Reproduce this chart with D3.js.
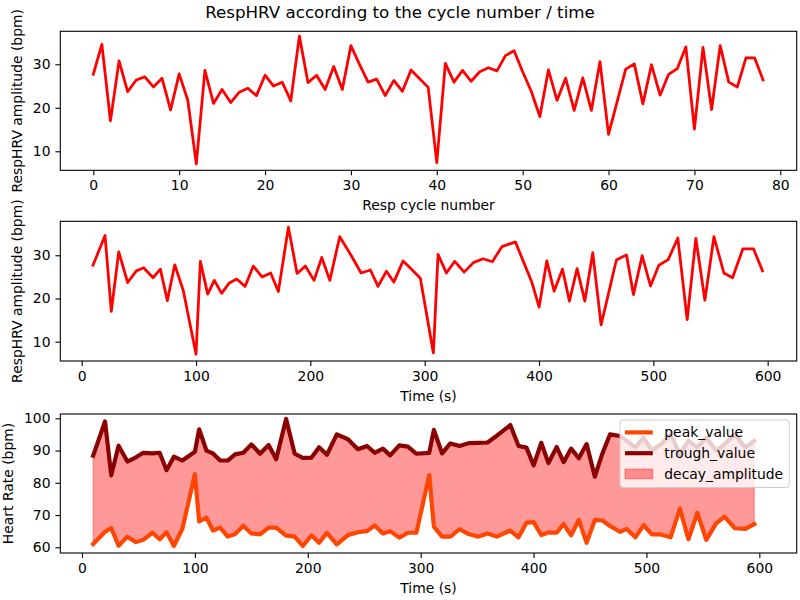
<!DOCTYPE html>
<html>
<head>
<meta charset="utf-8">
<script src="https://cdn.jsdelivr.net/npm/d3@7"></script>
<style>
  body { margin: 0; background: white; }
  text { font-family: "DejaVu Sans", sans-serif; }
</style>
</head>
<body>
<svg id="chart" width="800" height="600"></svg>
<script>
// RespHRV amplitude per respiratory cycle, and heart-rate peak/trough per cycle.

const timeSec = [9.9, 20.4, 25.9, 32.4, 40.2, 47.8, 54.2, 62.4, 68.8, 74.9,
  81.4, 88.9, 100.0, 103.8, 110.2, 116.0, 122.4, 129.1, 135.6, 142.9,
  150.1, 157.7, 165.3, 172.0, 180.8, 188.4, 195.6, 203.2, 210.0, 217.0,
  225.7, 235.6, 244.4, 252.5, 259.2, 266.5, 273.0, 281.1, 288.7, 296.2,
  307.6, 311.7, 319.0, 326.3, 334.5, 342.6, 351.1, 359.2, 367.5, 379.4,
  386.7, 393.7, 400.1, 406.8, 413.2, 420.5, 426.6, 433.3, 440.1, 447.0,
  454.3, 461.0, 467.7, 476.5, 482.6, 490.2, 497.5, 504.8, 513.0, 521.4,
  529.6, 537.2, 545.1, 553.0, 561.7, 569.3, 578.3, 587.6, 595.5];

const respHrvAmplitude = [27.7, 34.6, 17.0, 30.8, 23.7, 26.4, 27.1, 24.8, 26.8, 19.5,
  27.8, 21.8, 7.1, 28.6, 21.0, 24.2, 21.2, 23.6, 24.5, 22.8,
  27.5, 25.0, 25.9, 21.6, 36.5, 25.8, 27.5, 24.2, 29.5, 24.2,
  34.3, 30.0, 25.9, 26.6, 22.8, 26.3, 23.8, 28.7, 26.7, 24.7,
  7.4, 30.2, 25.9, 28.6, 26.1, 28.3, 29.2, 28.5, 32.0, 33.1,
  28.3, 23.8, 18.0, 28.7, 21.7, 26.8, 19.4, 26.9, 19.4, 30.6,
  13.9, 21.4, 28.9, 30.1, 20.9, 29.9, 22.9, 27.7, 29.0, 34.0,
  15.1, 33.9, 19.6, 34.3, 25.9, 24.8, 31.5, 31.5, 26.4];

const peakValue = [61.0, 64.8, 66.0, 60.5, 63.3, 61.6, 62.3, 64.5, 62.5, 64.7,
  60.4, 65.7, 82.7, 68.0, 69.2, 65.2, 66.1, 63.3, 64.1, 66.7,
  64.3, 64.0, 66.1, 66.1, 63.6, 63.3, 60.4, 63.7, 61.4, 64.5,
  60.9, 63.8, 64.7, 65.0, 66.8, 64.3, 65.0, 63.0, 64.5, 64.5,
  82.4, 66.4, 63.3, 63.3, 65.6, 64.1, 63.3, 64.3, 63.3, 65.2,
  63.1, 67.6, 67.8, 63.8, 64.6, 64.5, 67.2, 63.7, 68.5, 61.4,
  68.5, 68.3, 66.6, 64.8, 65.7, 63.1, 66.9, 64.0, 64.0, 63.1,
  72.0, 62.5, 70.7, 62.3, 67.4, 69.5, 65.9, 65.7, 67.2];

const troughValue = [88.4, 99.0, 82.3, 91.5, 86.6, 87.9, 89.3, 89.1, 89.3, 83.9,
  88.1, 86.9, 89.6, 96.6, 90.0, 89.1, 86.9, 86.9, 88.8, 89.3,
  91.9, 89.0, 91.7, 87.3, 99.8, 89.0, 87.7, 87.8, 91.0, 88.7,
  95.0, 93.5, 90.4, 91.4, 89.3, 90.6, 88.5, 91.6, 91.2, 89.0,
  89.3, 96.4, 89.1, 92.2, 91.4, 92.3, 92.4, 92.5, 94.6, 97.9,
  91.4, 90.9, 85.4, 92.4, 86.1, 91.1, 86.4, 90.6, 87.6, 92.0,
  81.9, 89.1, 95.0, 94.5, 93.0, 91.0, 94.0, 90.0, 92.0, 95.0,
  89.0, 93.0, 91.0, 94.0, 90.0, 92.0, 95.0, 91.0, 93.0];

const cycleTicks = [0, 10, 20, 30, 40, 50, 60, 70, 80];
const timeTicks = [0, 100, 200, 300, 400, 500, 600];
const amplitudeTicks = [10, 20, 30];
const heartRateTicks = [60, 70, 80, 90, 100];
const legendLabels = ["peak_value", "trough_value", "decay_amplitude"];

const svg = d3.select("#chart");
const fontSize = 13.9;

svg.append("text")
  .attr("x", 400)
  .attr("y", 18)
  .attr("text-anchor", "middle")
  .attr("font-size", 16.7)
  .text("RespHRV according to the cycle number / time");

// one matplotlib-like axes box: ticks and labels (frame drawn after the data)
function makeAxes(box, xDomain, yDomain, xTicks, yTicks, xLabel, yLabel, yLabelX) {
  const x = d3.scaleLinear().domain(xDomain).range([box.left, box.right]);
  const y = d3.scaleLinear().domain(yDomain).range([box.bottom, box.top]);

  const styleAxis = axis => {
    axis.select(".domain").remove();
    axis.selectAll("text").attr("font-size", fontSize).attr("fill", "black")
      .attr("font-family", "DejaVu Sans, sans-serif");
    axis.selectAll(".tick line").attr("stroke", "black").attr("stroke-width", 1.1);
  };

  svg.append("g")
    .attr("transform", `translate(0,${box.bottom})`)
    .call(d3.axisBottom(x).tickValues(xTicks).tickFormat(d3.format("d")).tickSize(4.9).tickPadding(4.9))
    .call(styleAxis);

  svg.append("g")
    .attr("transform", `translate(${box.left},0)`)
    .call(d3.axisLeft(y).tickValues(yTicks).tickFormat(d3.format("d")).tickSize(4.9).tickPadding(4.9))
    .call(styleAxis);

  svg.append("text")
    .attr("x", (box.left + box.right) / 2)
    .attr("y", box.bottom + 39.5)
    .attr("text-anchor", "middle")
    .attr("font-size", fontSize)
    .text(xLabel);

  svg.append("text")
    .attr("transform", `translate(${yLabelX},${(box.top + box.bottom) / 2}) rotate(-90)`)
    .attr("text-anchor", "middle")
    .attr("font-size", fontSize)
    .text(yLabel);

  return { x, y };
}

function drawFrame(box) {
  svg.append("rect")
    .attr("x", box.left)
    .attr("y", box.top)
    .attr("width", box.right - box.left)
    .attr("height", box.bottom - box.top)
    .attr("fill", "none")
    .attr("stroke", "black")
    .attr("stroke-width", 1.1);
}

function addLine(data, line, color, width) {
  svg.append("path")
    .datum(data)
    .attr("fill", "none")
    .attr("stroke", color)
    .attr("stroke-width", width)
    .attr("stroke-linejoin", "round")
    .attr("stroke-linecap", "square")
    .attr("d", line);
}

// --- panel 1: amplitude vs cycle number
const box1 = { left: 60.3, right: 796.7, top: 31.3, bottom: 170.3 };
const p1 = makeAxes(box1, [-3.84, 81.91], [5.63, 37.59], cycleTicks, amplitudeTicks,
  "Resp cycle number", "RespHRV amplitude (bpm)", 21.5);
addLine(respHrvAmplitude, d3.line().x((d, i) => p1.x(i)).y(d => p1.y(d)), "red", 2.78);
drawFrame(box1);

// --- panel 2: amplitude vs time
const box2 = { left: 60.3, right: 796.7, top: 221.3, bottom: 361 };
const p2 = makeAxes(box2, [-18.72, 625.4], [5.53, 37.87], timeTicks, amplitudeTicks,
  "Time (s)", "RespHRV amplitude (bpm)", 21.5);
addLine(respHrvAmplitude, d3.line().x((d, i) => p2.x(timeSec[i])).y(d => p2.y(d)), "red", 2.78);
drawFrame(box2);

// --- panel 3: heart rate peak / trough with the decay band
const box3 = { left: 60.3, right: 796.7, top: 414, bottom: 553 };
const p3 = makeAxes(box3, [-19.22, 633.1], [58.23, 101.33], timeTicks, heartRateTicks,
  "Time (s)", "Heart Rate (bpm)", 12.5);

const hr = timeSec.map((t, i) => ({ t, peak: peakValue[i], trough: troughValue[i] }));

svg.append("path")
  .datum(hr)
  .attr("fill", "rgba(255,0,0,0.4)")
  .attr("stroke", "rgba(255,0,0,0.4)")
  .attr("stroke-width", 1)
  .attr("d", d3.area().x(d => p3.x(d.t)).y0(d => p3.y(d.peak)).y1(d => p3.y(d.trough)));

addLine(hr, d3.line().x(d => p3.x(d.t)).y(d => p3.y(d.peak)), "orangered", 4.17);
addLine(hr, d3.line().x(d => p3.x(d.t)).y(d => p3.y(d.trough)), "darkred", 4.17);
drawFrame(box3);

// legend, upper right of panel 3
const legend = svg.append("g").attr("transform", "translate(620,420)");

legend.append("rect")
  .attr("width", 169.3)
  .attr("height", 67.5)
  .attr("rx", 3)
  .attr("fill", "white")
  .attr("fill-opacity", 0.8)
  .attr("stroke", "#cccccc")
  .attr("stroke-width", 1);

const legendColors = ["orangered", "darkred", null];
legendLabels.forEach((label, i) => {
  const cy = 12.4 + i * 20.8;
  if (legendColors[i]) {
    legend.append("line")
      .attr("x1", 5).attr("x2", 32.8)
      .attr("y1", cy).attr("y2", cy)
      .attr("stroke", legendColors[i])
      .attr("stroke-width", 4.17);
  } else {
    legend.append("rect")
      .attr("x", 5).attr("y", cy - 4.9)
      .attr("width", 27.8).attr("height", 9.7)
      .attr("fill", "rgba(255,0,0,0.4)")
      .attr("stroke", "rgba(255,0,0,0.4)");
  }
  legend.append("text")
    .attr("x", 44.3)
    .attr("y", cy)
    .attr("dy", "0.35em")
    .attr("font-size", fontSize)
    .text(label);
});
</script>
</body>
</html>
